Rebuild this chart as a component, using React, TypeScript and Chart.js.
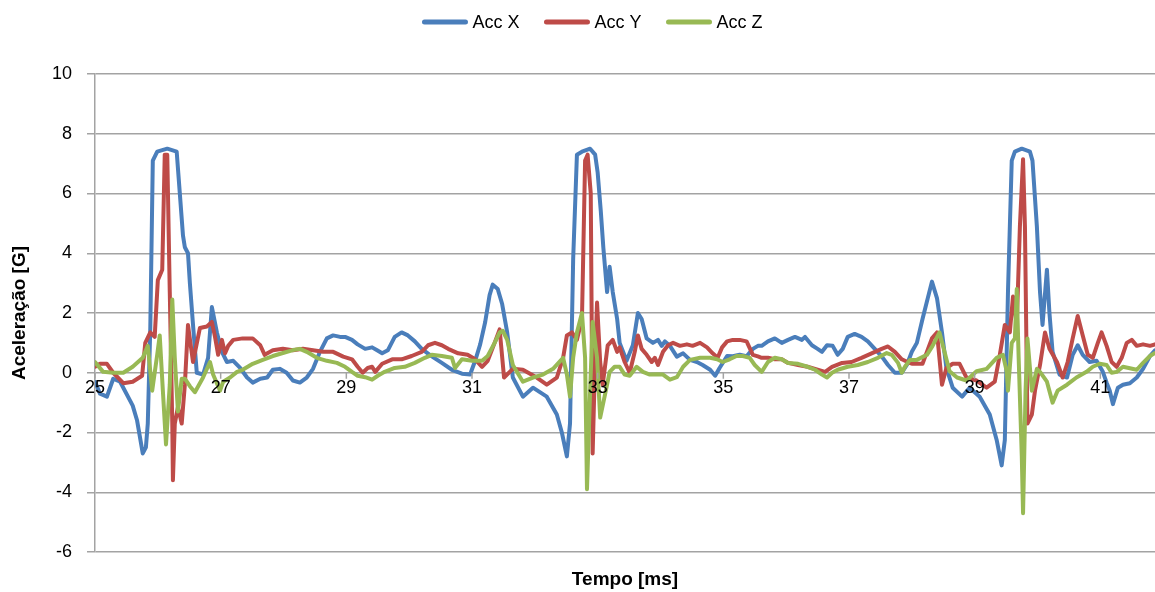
import React, { useEffect, useRef } from 'react';
import { Chart, registerables } from 'chart.js';

Chart.register(...registerables);

const FONT = '"Liberation Sans", Arial, sans-serif';

const seriesNames = ['Acc X', 'Acc Y', 'Acc Z'];
const seriesColors = ['#4A7EBB', '#BE4B48', '#98B954'];
const xTickLabels = [25, 27, 29, 31, 33, 35, 37, 39, 41];
const yTickValues = [-6, -4, -2, 0, 2, 4, 6, 8, 10];
const xTitle = 'Tempo [ms]';
const yTitle = 'Aceleração [G]';

const tX = [25.00,25.08,25.19,25.29,25.40,25.60,25.67,25.76,25.81,25.84,25.88,25.92,25.99,26.15,26.30,26.35,26.40,26.43,26.48,26.51,26.56,26.62,26.72,26.80,26.86,26.94,27.02,27.10,27.20,27.31,27.42,27.51,27.63,27.74,27.83,27.94,28.05,28.15,28.26,28.37,28.47,28.58,28.69,28.79,28.90,28.98,29.09,29.18,29.30,29.41,29.49,29.57,29.66,29.77,29.88,29.98,30.09,30.20,30.36,30.52,30.68,30.84,30.97,31.05,31.13,31.21,31.28,31.33,31.41,31.48,31.56,31.65,31.81,31.97,32.19,32.35,32.43,32.51,32.56,32.61,32.67,32.75,32.88,32.96,33.00,33.05,33.09,33.15,33.19,33.24,33.31,33.35,33.46,33.56,33.64,33.70,33.78,33.88,33.96,34.02,34.07,34.15,34.26,34.36,34.47,34.58,34.67,34.79,34.87,34.94,35.06,35.15,35.26,35.37,35.47,35.55,35.61,35.71,35.82,35.93,36.03,36.14,36.25,36.30,36.41,36.50,36.57,36.65,36.74,36.82,36.90,36.98,37.09,37.20,37.30,37.41,37.52,37.62,37.73,37.84,37.92,38.00,38.08,38.17,38.32,38.40,38.48,38.55,38.65,38.80,38.92,39.08,39.24,39.35,39.43,39.48,39.53,39.59,39.64,39.75,39.88,39.92,39.99,40.04,40.08,40.15,40.19,40.24,40.35,40.47,40.56,40.64,40.72,40.83,40.94,41.04,41.10,41.15,41.20,41.28,41.36,41.47,41.58,41.68,41.79,41.87];
const accX = [-0.3,-0.7,-0.8,-0.2,-0.3,-1.1,-1.6,-2.7,-2.5,-1.7,1.5,7.1,7.4,7.5,7.4,6.0,4.6,4.2,4.0,3.0,1.6,0.0,-0.06,0.5,2.2,1.35,0.7,0.36,0.4,0.16,-0.16,-0.33,-0.2,-0.16,0.1,0.13,0.0,-0.26,-0.33,-0.16,0.13,0.7,1.15,1.25,1.2,1.2,1.1,0.95,0.8,0.85,0.75,0.65,0.75,1.2,1.35,1.25,1.05,0.8,0.55,0.33,0.1,-0.03,-0.06,0.4,0.95,1.7,2.6,2.95,2.8,2.3,1.35,-0.16,-0.8,-0.5,-0.8,-1.4,-2.0,-2.8,-1.7,3.8,7.3,7.4,7.5,7.3,6.7,5.4,4.2,2.7,3.55,2.7,1.8,1.0,0.4,0.92,2.0,1.8,1.15,1.0,1.1,0.9,1.05,0.9,0.54,0.65,0.43,0.36,0.26,0.1,-0.1,0.16,0.56,0.55,0.6,0.55,0.8,0.9,0.9,1.05,1.15,1.0,1.1,1.2,1.1,1.2,0.92,0.8,0.7,0.92,0.9,0.6,0.8,1.2,1.3,1.2,1.05,0.8,0.55,0.26,0.0,0.0,0.26,0.7,1.0,1.8,3.05,2.5,1.35,0.16,-0.5,-0.8,-0.5,-0.8,-1.4,-2.25,-3.1,-2.25,2.7,7.1,7.4,7.5,7.4,7.1,4.9,2.7,1.6,3.45,2.0,0.7,-0.06,-0.16,0.6,0.92,0.6,0.36,0.4,0.03,-0.33,-0.6,-1.05,-0.5,-0.4,-0.35,-0.16,0.13,0.56,0.75];

const tY = [25.00,25.08,25.19,25.29,25.45,25.60,25.75,25.80,25.88,25.95,26.00,26.07,26.11,26.15,26.19,26.23,26.24,26.27,26.32,26.38,26.43,26.48,26.56,26.67,26.78,26.86,26.91,26.96,27.02,27.07,27.12,27.20,27.35,27.51,27.63,27.70,27.83,27.99,28.15,28.31,28.47,28.63,28.79,28.95,29.09,29.18,29.26,29.34,29.41,29.46,29.57,29.73,29.88,30.04,30.20,30.30,30.41,30.52,30.62,30.78,30.93,31.05,31.16,31.25,31.36,31.44,31.51,31.65,31.81,32.03,32.19,32.35,32.45,32.51,32.59,32.67,32.75,32.80,32.84,32.89,32.92,32.96,32.99,33.04,33.08,33.16,33.24,33.31,33.35,33.43,33.51,33.59,33.64,33.70,33.78,33.86,33.91,33.96,34.04,34.12,34.20,34.31,34.42,34.51,34.63,34.74,34.83,34.91,34.98,35.06,35.15,35.26,35.37,35.47,35.55,35.61,35.71,35.82,35.93,36.03,36.19,36.34,36.50,36.62,36.73,36.89,37.04,37.20,37.36,37.52,37.62,37.73,37.84,37.94,38.01,38.17,38.32,38.40,38.48,38.55,38.65,38.76,38.87,39.03,39.19,39.32,39.40,39.48,39.56,39.61,39.67,39.72,39.77,39.80,39.84,39.91,39.96,40.04,40.12,40.19,40.31,40.40,40.48,40.56,40.64,40.72,40.80,40.88,40.96,41.02,41.10,41.18,41.26,41.34,41.42,41.50,41.58,41.68,41.79,41.87];
const accY = [0.2,0.3,0.3,0.0,-0.35,-0.3,-0.1,1.0,1.35,1.2,3.1,3.45,7.3,7.3,2.7,-1.7,-3.6,-1.7,-1.15,-1.7,-0.4,1.6,0.36,1.5,1.55,1.7,1.2,0.6,1.1,0.65,0.9,1.1,1.15,1.15,0.92,0.6,0.75,0.8,0.75,0.8,0.75,0.7,0.7,0.54,0.45,0.2,0.0,0.16,0.2,0.03,0.3,0.45,0.45,0.56,0.7,0.92,1.0,0.92,0.8,0.65,0.6,0.45,0.2,0.4,1.0,1.45,-0.16,0.13,0.1,-0.16,-0.4,-0.16,0.5,1.25,1.35,1.1,1.8,7.1,7.3,6.0,-2.7,0.5,2.35,0.36,-0.4,0.92,1.1,0.7,0.85,0.36,0.0,0.7,1.25,0.8,0.6,0.36,0.5,0.26,0.7,0.92,1.0,0.9,0.95,0.9,1.0,0.85,0.65,0.5,0.85,1.05,1.1,1.1,1.05,0.6,0.55,0.5,0.5,0.45,0.45,0.33,0.26,0.2,0.1,0.03,0.2,0.33,0.36,0.5,0.65,0.8,0.88,0.7,0.45,0.35,0.3,0.3,1.15,1.35,-0.4,0.16,0.3,0.3,-0.16,-0.26,-0.5,-0.3,0.6,1.6,1.35,2.55,1.6,4.9,7.15,4.9,-1.7,-1.4,-0.6,0.26,1.35,0.8,0.36,-0.16,0.36,1.15,1.9,1.25,0.6,0.5,1.0,1.35,0.9,0.36,0.2,0.5,1.0,1.1,0.9,0.95,0.9,0.95];

const tZ = [25.00,25.13,25.29,25.45,25.60,25.76,25.84,25.91,25.99,26.03,26.08,26.13,26.19,26.23,26.27,26.32,26.38,26.43,26.51,26.59,26.72,26.83,26.88,26.99,27.04,27.15,27.26,27.35,27.51,27.67,27.83,27.99,28.15,28.26,28.37,28.53,28.69,28.85,28.98,29.09,29.18,29.30,29.41,29.50,29.61,29.77,29.93,30.09,30.25,30.36,30.52,30.68,30.73,30.84,31.00,31.16,31.25,31.36,31.44,31.49,31.56,31.65,31.81,31.97,32.13,32.29,32.45,32.51,32.56,32.61,32.67,32.75,32.80,32.83,32.88,32.92,32.99,33.04,33.15,33.19,33.27,33.35,33.43,33.51,33.62,33.72,33.83,33.94,34.04,34.15,34.26,34.36,34.47,34.63,34.79,34.90,34.99,35.10,35.21,35.31,35.42,35.50,35.61,35.71,35.82,35.93,36.03,36.19,36.34,36.46,36.57,36.65,36.73,36.82,36.98,37.14,37.30,37.46,37.60,37.68,37.78,37.84,37.89,37.97,38.08,38.24,38.33,38.44,38.52,38.60,38.72,38.87,39.03,39.19,39.35,39.45,39.51,39.53,39.59,39.64,39.67,39.70,39.75,39.77,39.81,39.84,39.91,39.99,40.04,40.15,40.24,40.32,40.47,40.62,40.78,40.88,40.99,41.10,41.18,41.26,41.36,41.47,41.58,41.68,41.79,41.87];
const accZ = [0.36,0.03,0.0,0.0,0.2,0.5,0.9,-0.6,0.6,1.25,-0.6,-2.4,-0.4,2.45,0.5,-1.3,-0.2,-0.2,-0.45,-0.65,-0.16,0.36,-0.06,-0.6,-0.3,-0.16,0.03,0.1,0.3,0.43,0.56,0.66,0.76,0.8,0.7,0.5,0.4,0.33,0.2,0.03,-0.1,-0.15,-0.23,-0.1,0.03,0.16,0.2,0.33,0.5,0.6,0.56,0.5,0.16,0.45,0.4,0.4,0.56,1.0,1.35,1.4,1.1,0.26,-0.3,-0.16,-0.06,0.13,0.5,-0.06,-0.8,0.5,1.35,2.0,0.5,-3.9,-0.6,1.7,0.5,-1.5,-0.4,0.03,0.2,0.2,-0.06,-0.1,0.2,0.03,-0.06,-0.05,-0.06,-0.23,-0.15,0.2,0.43,0.5,0.5,0.45,0.36,0.45,0.56,0.56,0.5,0.26,0.03,0.36,0.5,0.45,0.33,0.3,0.2,0.1,-0.06,-0.16,0.0,0.1,0.2,0.26,0.36,0.5,0.66,0.6,0.33,0.0,0.2,0.43,0.43,0.6,0.9,1.35,0.7,0.05,-0.16,-0.26,0.05,0.13,0.5,0.6,0.05,-0.6,1.0,1.15,2.8,0.5,-2.8,-4.7,-0.6,1.15,-0.6,0.13,0.03,-0.3,-1.0,-0.6,-0.4,-0.16,0.03,0.2,0.3,0.26,0.0,0.03,0.2,0.15,0.1,0.33,0.56,0.66];

const GRID = '#a3a3a3';

const zeroAxisPlugin = {
  id: 'zeroAxisLabels',
  afterDraw(chart: any) {
    const { ctx, scales } = chart;
    const xs = scales.x;
    const ys = scales.y;
    const y0 = ys.getPixelForValue(0);
    ctx.save();
    ctx.strokeStyle = GRID;
    ctx.lineWidth = 1.5;
    ctx.font = `18px ${FONT}`;
    ctx.fillStyle = '#000';
    ctx.textAlign = 'center';
    ctx.textBaseline = 'middle';
    xTickLabels.forEach((v) => {
      const px = xs.getPixelForValue(v);
      ctx.beginPath();
      ctx.moveTo(px, y0);
      ctx.lineTo(px, y0 + 6);
      ctx.stroke();
      ctx.fillText(String(v), px, y0 + 15);
    });
    ctx.restore();
  },
};

const legendPlugin = {
  id: 'lineLegend',
  afterDraw(chart: any) {
    const ctx = chart.ctx;
    ctx.save();
    ctx.font = `18px ${FONT}`;
    const lineW = 45;
    const gapText = 5;
    const gapItem = 25;
    const widths = seriesNames.map((n) => lineW + gapText + ctx.measureText(n).width);
    const total = widths.reduce((a, b) => a + b, 0) + gapItem * (widths.length - 1);
    let x = chart.width / 2 + 15 - total / 2;
    const y = 22;
    seriesNames.forEach((n, i) => {
      ctx.strokeStyle = seriesColors[i];
      ctx.lineWidth = 5;
      ctx.lineCap = 'round';
      ctx.beginPath();
      ctx.moveTo(x + 2, y);
      ctx.lineTo(x + lineW - 2, y);
      ctx.stroke();
      ctx.fillStyle = '#000';
      ctx.textAlign = 'left';
      ctx.textBaseline = 'middle';
      ctx.fillText(n, x + lineW + gapText, y + 1);
      x += widths[i] + gapItem;
    });
    ctx.restore();
  },
};

export default function App() {
  const ref = useRef<HTMLCanvasElement | null>(null);

  useEffect(() => {
    document.body.style.margin = '0';
    if (!ref.current) return;
    const seriesT = [tX, tY, tZ];
    const seriesV = [accX, accY, accZ];
    const chart = new Chart(ref.current, {
      type: 'line',
      data: {
        datasets: seriesNames.map((name, i) => ({
          label: name,
          data: seriesT[i].map((t, j) => ({ x: t, y: seriesV[i][j] })),
          borderColor: seriesColors[i],
          backgroundColor: seriesColors[i],
          borderWidth: 4,
          pointRadius: 0,
          tension: 0,
          borderJoinStyle: 'round' as const,
          borderCapStyle: 'round' as const,
          order: 3 - i,
        })),
      },
      options: {
        animation: false,
        responsive: false,
        maintainAspectRatio: false,
        layout: { padding: { top: 74, left: 0, right: 0, bottom: 0 } },
        plugins: {
          legend: { display: false },
          tooltip: { enabled: false },
        },
        scales: {
          x: {
            type: 'linear',
            min: 25,
            max: 41.87,
            ticks: { display: false },
            grid: { display: false },
            border: { display: false },
            title: {
              display: true,
              text: xTitle,
              color: '#000',
              font: { family: FONT, size: 19, weight: 'bold' },
              padding: { top: 8.6, bottom: 0.6 },
            },
          },
          y: {
            min: -6,
            max: 10,
            afterBuildTicks: (scale: any) => {
              scale.ticks = yTickValues.map((v) => ({ value: v }));
            },
            afterFit: (scale: any) => {
              scale.width = 95;
            },
            ticks: {
              color: '#000',
              font: { family: FONT, size: 18 },
              padding: 15,
            },
            grid: { color: GRID, lineWidth: 1.5, tickLength: 8, drawTicks: true },
            border: { display: true, color: GRID, width: 1.5 },
            title: {
              display: true,
              text: yTitle,
              color: '#000',
              font: { family: FONT, size: 19, weight: 'bold' },
              padding: { top: 8.6, bottom: 0 },
            },
          },
        },
      },
      plugins: [zeroAxisPlugin, legendPlugin],
    } as any);
    return () => chart.destroy();
  }, []);

  return (
    <div style={{ width: 1155, height: 592 }}>
      <canvas ref={ref} width={1155} height={592} style={{ display: 'block' }} />
    </div>
  );
}
